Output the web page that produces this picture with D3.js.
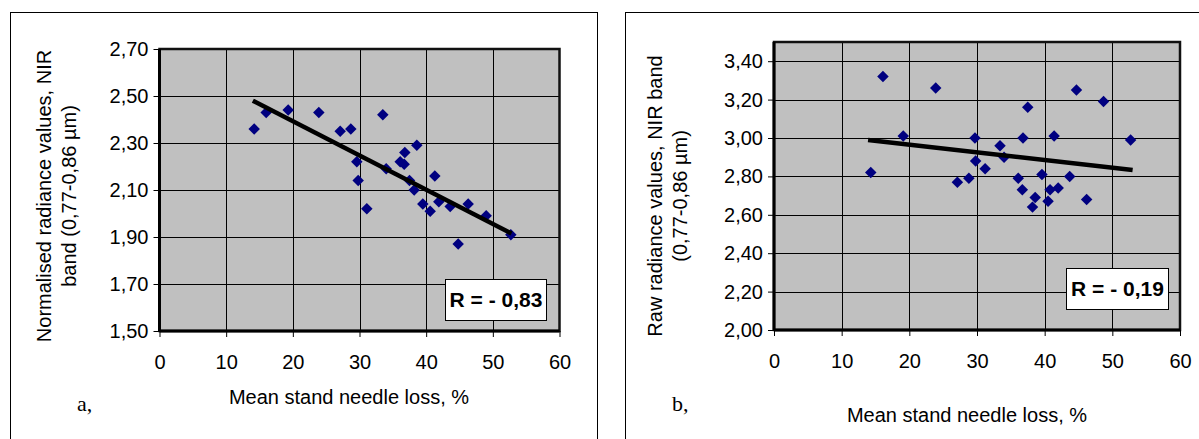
<!DOCTYPE html>
<html><head><meta charset="utf-8">
<script src="https://cdn.jsdelivr.net/npm/d3@7"></script>
<style>
html,body{margin:0;padding:0;background:#fff;}
svg{display:block;}
text{font-family:"Liberation Sans",Arial,sans-serif;}
</style></head>
<body>
<svg id="chart" width="1199" height="439"></svg>
<script>
// ---- Data ----
const xTicks = [0, 10, 20, 30, 40, 50, 60];
const yTicksA = [1.5, 1.7, 1.9, 2.1, 2.3, 2.5, 2.7];
const yTicksB = [2.0, 2.2, 2.4, 2.6, 2.8, 3.0, 3.2, 3.4];

const needleLossA = [14.2,16.0,19.3,23.9,27.1,28.7,33.5,29.6,29.8,31.1,34.0,36.1,36.7,36.8,38.6,37.5,38.2,41.3,39.5,40.6,41.9,43.6,46.3,49.0,44.8,52.7];
const radianceA   = [2.36,2.43,2.44,2.43,2.35,2.36,2.42,2.22,2.14,2.02,2.19,2.22,2.21,2.26,2.29,2.14,2.10,2.16,2.04,2.01,2.05,2.03,2.04,1.99,1.87,1.91];
const trendXA = [14.0, 52.8];
const trendYA = [2.48, 1.915];
const labelA = "R = - 0,83";

const needleLossB = [14.3,16.1,19.1,23.9,27.1,28.8,29.7,29.8,31.2,33.4,34.0,36.1,36.7,36.8,37.5,38.6,38.2,39.6,40.5,40.8,41.4,42.0,43.7,44.7,46.2,48.7,52.7];
const radianceB   = [2.82,3.32,3.01,3.26,2.77,2.79,3.00,2.88,2.84,2.96,2.90,2.79,2.73,3.00,3.16,2.69,2.64,2.81,2.67,2.73,3.01,2.74,2.80,3.25,2.68,3.19,2.99];
const trendXB = [13.9, 53.0];
const trendYB = [2.99, 2.833];
const labelB = "R = - 0,19";

const fmt = v => d3.format(".2f")(v).replace(".", ",");
const svg = d3.select("#chart");

function panel(cfg) {
  const g = svg.append("g");
  // outer frame
  g.append("rect").attr("x", cfg.frame[0]).attr("y", cfg.frame[1])
    .attr("width", cfg.frame[2]).attr("height", cfg.frame[3])
    .attr("fill", "#fff").attr("stroke", "#000").attr("stroke-width", 1);

  const x = d3.scaleLinear().domain([0, 60]).range([cfg.left, cfg.right]);
  const y = d3.scaleLinear().domain(cfg.yDomain).range([cfg.bottom, cfg.top]);

  g.append("rect").attr("x", cfg.left).attr("y", cfg.top)
    .attr("width", cfg.right - cfg.left).attr("height", cfg.bottom - cfg.top)
    .attr("fill", "#c0c0c0");

  // gridlines
  g.append("g").selectAll("line").data(cfg.yTicks.filter(t => t > cfg.yDomain[0] && t < cfg.yDomain[1]))
    .join("line").attr("x1", cfg.left).attr("x2", cfg.right)
    .attr("y1", d => Math.round(y(d)) + 0.5).attr("y2", d => Math.round(y(d)) + 0.5)
    .attr("stroke", "#000").attr("stroke-width", 1);
  g.append("g").selectAll("line").data(xTicks.filter(t => t > 0 && t < 60))
    .join("line").attr("y1", cfg.top).attr("y2", cfg.bottom)
    .attr("x1", d => Math.round(x(d)) + 0.5).attr("x2", d => Math.round(x(d)) + 0.5)
    .attr("stroke", "#000").attr("stroke-width", 1);

  // plot border
  g.append("rect").attr("x", cfg.left).attr("y", cfg.top)
    .attr("width", cfg.right - cfg.left).attr("height", cfg.bottom - cfg.top)
    .attr("fill", "none").attr("stroke", "#111").attr("stroke-width", 2.5);

  // axes
  const yAxis = d3.axisLeft(y).tickValues(cfg.yTicks).tickFormat(fmt).tickSize(6).tickPadding(5);
  const ya = g.append("g").attr("transform", `translate(${cfg.left},0)`).call(yAxis);
  const xAxis = d3.axisBottom(x).tickValues(xTicks).tickFormat(d3.format("d")).tickSize(6).tickPadding(18);
  const xa = g.append("g").attr("transform", `translate(0,${cfg.bottom})`).call(xAxis);
  [ya, xa].forEach(a => {
    a.select(".domain").attr("stroke", "#000").attr("stroke-width", 3);
    a.selectAll(".tick line").attr("stroke", "#000").attr("stroke-width", 1);
    a.selectAll(".tick text").attr("font-size", 20).attr("fill", "#000")
      .style("font-family", '"Liberation Sans",Arial,sans-serif');
  });
  ya.select(".domain").attr("d", `M0,${cfg.top}V${cfg.bottom}`);
  xa.select(".domain").attr("d", `M${cfg.left},0H${cfg.right}`);

  // points (diamonds)
  g.append("g").selectAll("path").data(cfg.xs.map((v, i) => [v, cfg.ys[i]]))
    .join("path")
    .attr("d", d3.symbol().type(d3.symbolSquare).size(66)())
    .attr("transform", d => `translate(${x(d[0])},${y(d[1])}) rotate(45)`)
    .attr("fill", "#000080");

  // trend line
  g.append("line")
    .attr("x1", x(cfg.tx[0])).attr("y1", y(cfg.ty[0]))
    .attr("x2", x(cfg.tx[1])).attr("y2", y(cfg.ty[1]))
    .attr("stroke", "#000").attr("stroke-width", 4.5);

  // R label box
  const bx = cfg.box;
  g.append("rect").attr("x", bx[0]).attr("y", bx[1]).attr("width", bx[2]).attr("height", bx[3])
    .attr("fill", "#fff").attr("stroke", "#000").attr("stroke-width", 1);
  g.append("text").attr("x", bx[0] + bx[2] / 2).attr("y", bx[1] + bx[3] / 2 + 7)
    .attr("text-anchor", "middle").attr("font-size", 21).attr("font-weight", "bold")
    .text(cfg.label);

  // y title
  const yt = g.append("text").attr("transform", `translate(${cfg.ytx},${cfg.yty}) rotate(-90)`)
    .attr("text-anchor", "middle").attr("font-size", 20);
  yt.append("tspan").attr("x", 0).attr("dy", 0).text(cfg.ytitle[0]);
  yt.append("tspan").attr("x", 0).attr("dy", 25).text(cfg.ytitle[1]);

  // x title
  g.append("text").attr("x", cfg.xtx).attr("y", cfg.xty).attr("text-anchor", "middle")
    .attr("font-size", 20).text("Mean stand needle loss, %");

  // panel letter
  g.append("text").attr("x", cfg.letter[0]).attr("y", cfg.letter[1])
    .attr("font-size", 22).style("font-family", '"Liberation Serif","Times New Roman",serif')
    .text(cfg.letter[2]);
}

panel({
  frame: [10.5, 12.5, 587, 440],
  left: 159.5, right: 559.5, top: 49, bottom: 331,
  yDomain: [1.5, 2.7], yTicks: yTicksA,
  xs: needleLossA, ys: radianceA, tx: trendXA, ty: trendYA,
  box: [445.5, 279.5, 101, 41], label: labelA,
  ytitle: ["Normalised radiance values, NIR", "band (0,77-0,86 µm)"], ytx: 51, yty: 196,
  xtx: 349, xty: 404,
  letter: [77, 411, "a,"]
});

panel({
  frame: [625.5, 12.5, 600, 440],
  left: 774, right: 1180, top: 42, bottom: 330,
  yDomain: [2.0, 3.5], yTicks: yTicksB,
  xs: needleLossB, ys: radianceB, tx: trendXB, ty: trendYB,
  box: [1066.5, 268.5, 102, 41], label: labelB,
  ytitle: ["Raw radiance values, NIR band", "(0,77-0,86 µm)"], ytx: 662, yty: 196,
  xtx: 967, xty: 422,
  letter: [672, 411, "b,"]
});
</script>
</body></html>
